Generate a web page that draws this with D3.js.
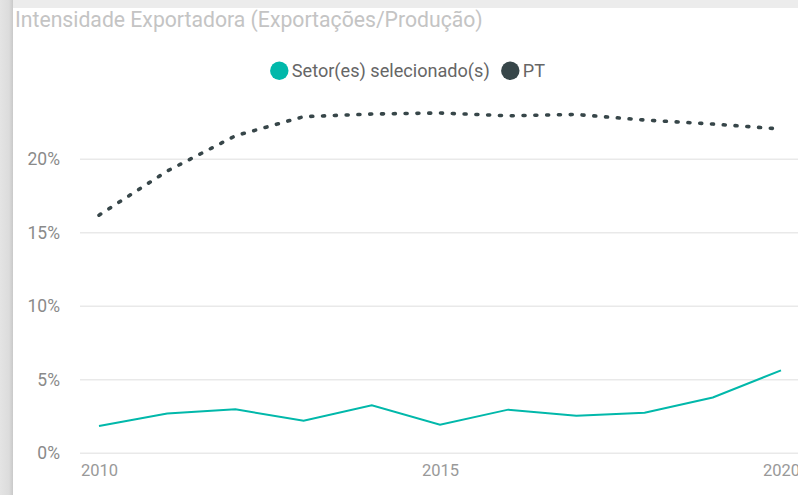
<!DOCTYPE html>
<html><head><meta charset="utf-8">
<script src="https://cdn.jsdelivr.net/npm/d3@7"></script>
<style>html,body{margin:0;padding:0;background:#fff;overflow:hidden}</style>
</head><body>
<svg id="c" width="798" height="495"></svg>
<script>
const years = [2010,2011,2012,2013,2014,2015,2016,2017,2018,2019,2020];
const setorValues = [1.85,2.7,2.99,2.22,3.26,1.95,2.97,2.56,2.76,3.8,5.64];
const ptValues = [16.2,19.2,21.6,22.9,23.08,23.15,22.96,23.05,22.67,22.4,22.06];
const yTicks = [0,5,10,15,20];
const xTicks = [2010,2015,2020];
const seriesNames = ["Setor(es) selecionado(s)","PT"];
const colors = ["#01B8AA","#374649"];

const svg = d3.select("#c");
const defs = svg.append("defs");
const lg = defs.append("linearGradient").attr("id","lg").attr("x1",0).attr("x2",1);
lg.append("stop").attr("offset",0).attr("stop-color","#e4e4e4");
lg.append("stop").attr("offset",0.7).attr("stop-color","#dcdcdc");
lg.append("stop").attr("offset",1).attr("stop-color","#c9c9c9");
svg.append("rect").attr("width",798).attr("height",495).attr("fill","#ececec");
svg.append("rect").attr("x",0).attr("y",0).attr("width",13).attr("height",495).attr("fill","url(#lg)");
svg.append("rect").attr("x",13).attr("y",8).attr("width",785).attr("height",487).attr("fill","#fff");

function fit(sel, target){
  const w = sel.node().getComputedTextLength();
  const fs = parseFloat(sel.attr("font-size"));
  sel.attr("font-size", fs*target/w);
}

const title = svg.append("text").attr("x",15).attr("y",27)
  .attr("font-family","Roboto, sans-serif").attr("font-size",18)
  .attr("fill","#c4c4c4").text("Intensidade Exportadora (Exportações/Produção)");
fit(title, 468);

const x = d3.scaleLinear().domain([2010,2020]).range([99,781]);
const y = d3.scaleLinear().domain([0,20]).range([453.3,159.3]);

svg.append("g").selectAll("line").data(yTicks).join("line")
  .attr("x1",80).attr("x2",798).attr("y1",d=>y(d)).attr("y2",d=>y(d))
  .attr("stroke","#e9e9e9").attr("stroke-width",1.5);

const ya = svg.append("g").attr("transform","translate(60,0)")
  .call(d3.axisLeft(y).tickValues(yTicks).tickSize(0).tickPadding(0).tickFormat(d=>d+"%"));
ya.select(".domain").remove();
ya.selectAll("text").attr("font-family","Roboto, sans-serif").attr("font-size",17.5).attr("fill","#8a8a8a");

const xa = svg.append("g").attr("transform","translate(0,461)")
  .call(d3.axisBottom(x).tickValues(xTicks).tickSize(0).tickPadding(0).tickFormat(d3.format("d")));
xa.select(".domain").remove();
xa.selectAll("text").attr("font-family","Roboto, sans-serif").attr("font-size",16.5).attr("fill","#999").attr("dy","0.9em");

const line = d3.line().x((d,i)=>x(years[i])).y(d=>y(d));
svg.append("path").datum(ptValues).attr("d",line).attr("fill","none")
  .attr("stroke",colors[1]).attr("stroke-width",3.6).attr("stroke-linecap","round")
  .attr("stroke-dasharray","2 9.8");
svg.append("path").datum(setorValues).attr("d",line).attr("fill","none")
  .attr("stroke",colors[0]).attr("stroke-width",2);

const leg = svg.append("g").attr("font-family","Roboto, sans-serif").attr("fill","#666");
const lx = [279.3, 510.3];
const lw = [198, 17];
seriesNames.forEach((n,i)=>{
  leg.append("circle").attr("cx",lx[i]).attr("cy",70.7).attr("r",9.2).attr("fill",colors[i]);
  const t = leg.append("text").attr("x",lx[i]+12.5).attr("y",77).attr("font-size",18).text(n);
  if(i===0) fit(t, lw[0]);
});
leg.selectAll("text").attr("font-size", leg.select("text").attr("font-size"));
</script>
</body></html>
